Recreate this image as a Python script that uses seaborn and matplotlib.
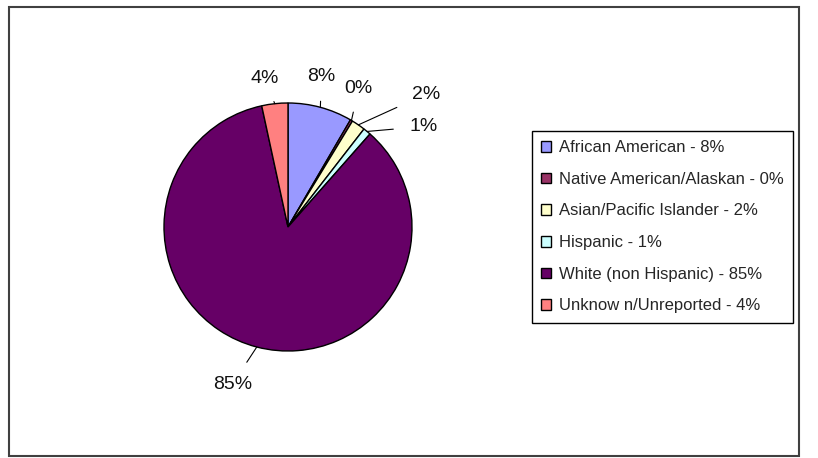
import numpy as np
import matplotlib
matplotlib.use("Agg")
import matplotlib.pyplot as plt
import seaborn as sns
from matplotlib.patches import Rectangle

sns.set_theme(style="white")
plt.rcParams['font.family'] = ['Liberation Sans', 'DejaVu Sans']

# data
groups = ["African American", "Native American/Alaskan", "Asian/Pacific Islander",
          "Hispanic", "White (non Hispanic)", "Unknow n/Unreported"]
shares = [8.4, 0.3, 1.8, 1.0, 85.1, 3.4]
pct_labels = ["8%", "0%", "2%", "1%", "85%", "4%"]

colors = ["#9999FF", "#993366", "#FFFFCC", "#CCFFFF", "#660066", "#FF8080"]

# label positions (in pie radius units)
label_pos = [(0.27, 1.21), (0.57, 1.12), (1.11, 1.07), (1.09, 0.81), (-0.45, -1.27), (-0.19, 1.20)]

fig = plt.figure(figsize=(8.18, 4.58), dpi=100)

R_px = 124
cx, cy = 288, 227
lim = 1.6
size = 2 * R_px * lim
ax = fig.add_axes([(cx - size / 2) / 818, (458 - cy - size / 2) / 458, size / 818, size / 458])

wedges, _ = ax.pie(shares, colors=colors, startangle=90, counterclock=False,
                   wedgeprops=dict(edgecolor="black", linewidth=1.0))
ax.set_xlim(-lim, lim)
ax.set_ylim(-lim, lim)
ax.set_aspect("equal")
ax.axis("off")

for w, lab, (tx, ty) in zip(wedges, pct_labels, label_pos):
    ang = np.deg2rad((w.theta1 + w.theta2) / 2)
    ex, ey = np.cos(ang), np.sin(ang)
    ax.annotate(lab, xy=(ex, ey), xytext=(tx, ty), ha="center", va="center",
                fontsize=14, color="#111111",
                arrowprops=dict(arrowstyle="-", color="black", lw=0.8,
                                shrinkA=9, shrinkB=0))

leg = fig.legend(wedges, [f"{g} - {p}" for g, p in zip(groups, pct_labels)],
                 loc="upper left", bbox_to_anchor=(532 / 818, 1 - 131 / 458),
                 borderaxespad=0, fontsize=12, frameon=True, fancybox=False,
                 edgecolor="black", framealpha=1, handlelength=0.6,
                 handleheight=0.6, handletextpad=0.45, labelspacing=1.0,
                 borderpad=0.55)
leg.get_frame().set_linewidth(1.0)

fig.patches.append(Rectangle((9 / 818, 1 - 456 / 458), 790 / 818, 449 / 458,
                             transform=fig.transFigure, fill=False,
                             edgecolor="#404040", linewidth=1.5))

fig.savefig("out.png", dpi=100)
